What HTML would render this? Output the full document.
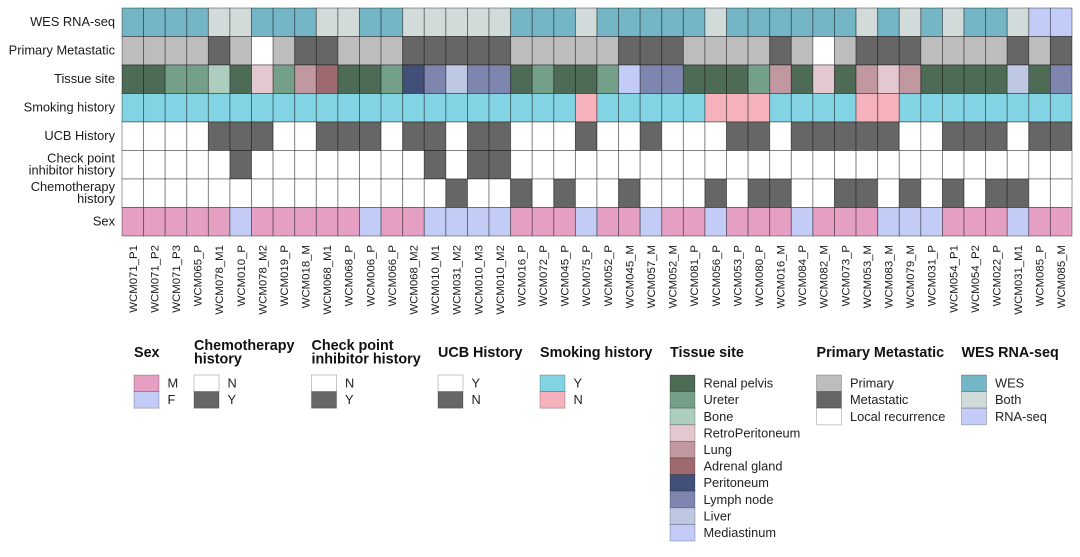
<!DOCTYPE html>
<html lang="en">
<head>
<meta charset="utf-8">
<title>Clinical annotation heatmap</title>
<style>
  html, body { margin: 0; padding: 0; background: #fff; }
  svg { display: block; font-family: "Liberation Sans", Arial, sans-serif; filter: blur(0.35px); }
</style>
</head>
<body>
<svg id="chart" xmlns="http://www.w3.org/2000/svg" width="1080" height="557" viewBox="0 0 1080 557"></svg>
<script>
const samples = ['WCM071_P1','WCM071_P2','WCM071_P3','WCM065_P','WCM078_M1','WCM010_P','WCM078_M2','WCM019_P','WCM018_M','WCM068_M1','WCM068_P','WCM006_P','WCM066_P','WCM068_M2','WCM010_M1','WCM031_M2','WCM010_M3','WCM010_M2','WCM016_P','WCM072_P','WCM045_P','WCM075_P','WCM052_P','WCM045_M','WCM057_M','WCM052_M','WCM081_P','WCM056_P','WCM053_P','WCM080_P','WCM016_M','WCM084_P','WCM082_M','WCM073_P','WCM053_M','WCM083_M','WCM079_M','WCM031_P','WCM054_P1','WCM054_P2','WCM022_P','WCM031_M1','WCM085_P','WCM085_M'];

const wesValues = ['WES','WES','WES','WES','Both','Both','WES','WES','WES','Both','Both','WES','WES','Both','Both','Both','Both','Both','WES','WES','WES','Both','WES','WES','WES','WES','WES','Both','WES','WES','WES','WES','WES','WES','Both','WES','Both','WES','Both','WES','WES','Both','RNA-seq','RNA-seq'];

const primaryValues = ['Primary','Primary','Primary','Primary','Metastatic','Primary','Local recurrence','Primary','Metastatic','Metastatic','Primary','Primary','Primary','Metastatic','Metastatic','Metastatic','Metastatic','Metastatic','Primary','Primary','Primary','Primary','Primary','Metastatic','Metastatic','Metastatic','Primary','Primary','Primary','Primary','Metastatic','Primary','Local recurrence','Primary','Metastatic','Metastatic','Metastatic','Primary','Primary','Primary','Primary','Metastatic','Primary','Metastatic'];

const tissueValues = ['Renal pelvis','Renal pelvis','Ureter','Ureter','Bone','Renal pelvis','RetroPeritoneum','Ureter','Lung','Adrenal gland','Renal pelvis','Renal pelvis','Ureter','Peritoneum','Lymph node','Liver','Lymph node','Lymph node','Renal pelvis','Ureter','Renal pelvis','Renal pelvis','Ureter','Mediastinum','Lymph node','Lymph node','Renal pelvis','Renal pelvis','Renal pelvis','Ureter','Lung','Renal pelvis','RetroPeritoneum','Renal pelvis','Lung','RetroPeritoneum','Lung','Renal pelvis','Renal pelvis','Renal pelvis','Renal pelvis','Liver','Renal pelvis','Lymph node'];

const smokingValues = ['Y','Y','Y','Y','Y','Y','Y','Y','Y','Y','Y','Y','Y','Y','Y','Y','Y','Y','Y','Y','Y','N','Y','Y','Y','Y','Y','N','N','N','Y','Y','Y','Y','N','N','Y','Y','Y','Y','Y','Y','Y','Y'];

const ucbValues = ['Y','Y','Y','Y','N','N','N','Y','Y','N','N','N','Y','N','N','Y','N','N','Y','Y','Y','N','Y','Y','N','Y','Y','Y','N','N','Y','N','N','N','N','N','Y','Y','N','N','N','Y','N','N'];

const checkpointValues = ['N','N','N','N','N','Y','N','N','N','N','N','N','N','N','Y','N','Y','Y','N','N','N','N','N','N','N','N','N','N','N','N','N','N','N','N','N','N','N','N','N','N','N','N','N','N'];

const chemoValues = ['N','N','N','N','N','N','N','N','N','N','N','N','N','N','N','Y','N','N','Y','N','Y','N','N','Y','N','N','N','Y','N','Y','Y','N','N','Y','Y','N','Y','N','Y','N','Y','Y','N','N'];

const sexValues = ['M','M','M','M','M','F','M','M','M','M','M','F','M','M','F','F','F','F','M','M','M','F','M','M','F','M','M','F','M','M','M','F','M','M','M','F','F','F','M','M','M','F','M','M'];

const svgNS = 'http://www.w3.org/2000/svg';
const chart = document.getElementById('chart');

const wesColors = { 'WES': '#74b5c6', 'Both': '#d1dcda', 'RNA-seq': '#c3ccf6' };
const primaryColors = { 'Primary': '#bdbdbd', 'Metastatic': '#666666', 'Local recurrence': '#ffffff' };
const tissueColors = { 'Renal pelvis': '#4e6b56', 'Ureter': '#749f89', 'Bone': '#adcdbf', 'RetroPeritoneum': '#e3c8cf', 'Lung': '#c197a0', 'Adrenal gland': '#9e6a6f', 'Peritoneum': '#425079', 'Lymph node': '#7e86b0', 'Liver': '#bfc8e2', 'Mediastinum': '#c3ccf6' };
const smokingColors = { 'Y': '#82d3e3', 'N': '#f5b2bc' };
const ucbColors = { 'Y': '#ffffff', 'N': '#666666' };
const binaryColors = { 'N': '#ffffff', 'Y': '#666666' };
const sexColors = { 'M': '#e59fc3', 'F': '#c3ccf6' };

const rows = [
  { key: 'wes-rna-seq', label: ['WES RNA-seq'], values: wesValues, colors: wesColors },
  { key: 'primary-metastatic', label: ['Primary Metastatic'], values: primaryValues, colors: primaryColors },
  { key: 'tissue-site', label: ['Tissue site'], values: tissueValues, colors: tissueColors },
  { key: 'smoking-history', label: ['Smoking history'], values: smokingValues, colors: smokingColors },
  { key: 'ucb-history', label: ['UCB History'], values: ucbValues, colors: ucbColors },
  { key: 'check-point-history', label: ['Check point', 'inhibitor history'], values: checkpointValues, colors: binaryColors },
  { key: 'chemotherapy-history', label: ['Chemotherapy', 'history'], values: chemoValues, colors: binaryColors },
  { key: 'sex', label: ['Sex'], values: sexValues, colors: sexColors }
];

const legends = [
  { key: 'sex', title: ['Sex'], x: 134, colors: sexColors },
  { key: 'chemotherapy', title: ['Chemotherapy', 'history'], x: 194, colors: binaryColors },
  { key: 'check-point', title: ['Check point', 'inhibitor history'], x: 311.5, colors: binaryColors },
  { key: 'ucb', title: ['UCB History'], x: 438, colors: ucbColors },
  { key: 'smoking', title: ['Smoking history'], x: 540, colors: smokingColors },
  { key: 'tissue', title: ['Tissue site'], x: 670, colors: tissueColors },
  { key: 'primary', title: ['Primary Metastatic'], x: 816.5, colors: primaryColors },
  { key: 'wes', title: ['WES RNA-seq'], x: 961.5, colors: wesColors }
];

const plotLeft = 122, plotRight = 1072, plotTop = 8, plotBottom = 236;
const colWidth = (plotRight - plotLeft) / samples.length;
const rowHeight = (plotBottom - plotTop) / rows.length;
const xScale = i => plotLeft + i * colWidth;
const yScale = i => plotTop + i * rowHeight;

function make(tag, attrs, parent) {
  const el = document.createElementNS(svgNS, tag);
  for (const k in attrs) el.setAttribute(k, attrs[k]);
  parent.appendChild(el);
  return el;
}

function slug(s) {
  return s.toLowerCase().replace(/[^a-z0-9]+/g, '-');
}

const gridGroup = make('g', {}, chart);



rows.forEach((row, r) => {
  row.values.forEach((value, c) => {
    const cell = make('rect', {
      x: xScale(c), y: yScale(r), width: colWidth, height: rowHeight,
      fill: row.colors[value], stroke: '#000', 'stroke-opacity': 0.42, 'stroke-width': 0.9
    }, gridGroup);
    
    
  });

  const cy = yScale(r) + rowHeight / 2;
  const lineGap = 12;
  row.label.forEach((line, i) => {
    const text = make('text', {
      x: 115, y: cy + 3.6 + (i - (row.label.length - 1) / 2) * lineGap,
      'text-anchor': 'end', 'font-size': 12.85, fill: '#1a1a1a'
    }, chart);
    
    
    text.textContent = line;
  });
});

samples.forEach((name, c) => {
  const cx = xScale(c) + colWidth / 2 + 4;
  const text = make('text', {
    transform: 'translate(' + cx + ',245) rotate(-90)',
    'text-anchor': 'end', 'font-size': 11.4, fill: '#1a1a1a'
  }, chart);
  
  
  text.textContent = name;
});

const swatchWidth = 25, swatchHeight = 16.6, swatchTop = 375;
legends.forEach(legend => {
  const group = make('g', {}, chart);
  
  

  const baselines = legend.title.length === 2 ? [350, 363.3] : [357];
  legend.title.forEach((line, i) => {
    const title = make('text', {
      x: legend.x, y: baselines[i], 'font-size': 14.35, 'font-weight': 'bold', fill: '#111'
    }, group);
    
    
    title.textContent = line;
  });

  Object.keys(legend.colors).forEach((name, i) => {
    const y = swatchTop + i * swatchHeight;
    const swatch = make('rect', {
      x: legend.x, y: y, width: swatchWidth, height: swatchHeight,
      fill: legend.colors[name], stroke: '#000', 'stroke-opacity': 0.25, 'stroke-width': 0.9
    }, group);
    
    

    const label = make('text', {
      x: legend.x + swatchWidth + 8.5, y: y + 12.6, 'font-size': 12.8, fill: '#222'
    }, group);
    
    
    label.textContent = name;
  });
});
</script>
</body>
</html>
